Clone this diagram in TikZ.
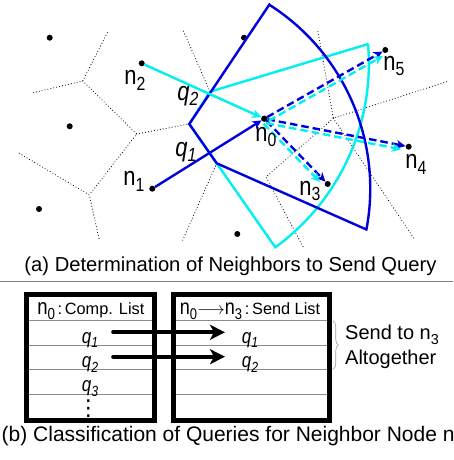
\documentclass[tikz,border=0pt]{standalone}
\usepackage{fontspec}
\setmainfont{Liberation Sans}
\newfontfamily\djvfont{DejaVu Sans}
\usetikzlibrary{arrows.meta,decorations.pathreplacing,calc}
\definecolor{qblue}{RGB}{0,0,220}
\definecolor{qcyan}{RGB}{0,240,240}
\newcommand{\lsub}[1]{\raisebox{-0.22em}{\scalebox{0.72}{#1}}}
\newcommand{\tallt}[1]{\scalebox{1}[1.2]{#1}}
\begin{document}
\begin{tikzpicture}[x=1pt,y=1pt,
  vor/.style={black, line width=1.1pt, line cap=round, dash pattern=on 0pt off 3pt},
  dot/.style={circle, fill=black, inner sep=0pt, minimum size=6pt},
  region/.style={line width=2.4pt, line join=miter},
  qarrow/.style={line width=2.4pt, -{Stealth[length=9pt,width=8.5pt,inset=2.5pt]}},
  qdash/.style={qarrow, dash pattern=on 7.5pt off 4pt},
  lbl/.style={font=\fontsize{22}{22}\selectfont, inner sep=0pt},
  qlbl/.style={font=\fontsize{22}{22}\selectfont\itshape, inner sep=0pt},
  captxt/.style={font=\fontsize{20.2}{21}\selectfont, inner sep=0pt},
  listbox/.style={draw, line width=5pt, inner sep=0pt},
  rowline/.style={black!45, line width=0.6pt},
  hdr/.style={font=\fontsize{16.3}{17}\selectfont, inner sep=0pt},
  cell/.style={font=\fontsize{17}{17}\selectfont\itshape, inner sep=0pt},
  bigarrow/.style={line width=4.3pt, line cap=round, -{Stealth[length=15pt,width=15pt,inset=4pt]}},
  sidetxt/.style={font=\fontsize{20}{21}\selectfont, inner sep=0pt},
]
\useasboundingbox (0,0) rectangle (453,460);

% ---------- Voronoi edges ----------
\coordinate (A) at (82.7,379);
\coordinate (B) at (136.7,326);
\coordinate (C) at (89.3,265);
\coordinate (D) at (189.3,336);
\coordinate (E) at (216.7,296.7);
\coordinate (F) at (266,283);
\coordinate (G) at (333.3,341.7);
\coordinate (H) at (210,368.3);
\draw[vor] (33.3,367.3) -- (A) -- (108.3,429.3);
\draw[vor] (A) -- (B) -- (C);
\draw[vor] (B) -- (D);
\draw[vor] (19.3,306.7) -- (C) -- (99.3,220);
\draw[vor] (H) -- (183.3,429.3);
\draw[vor] (E) -- (182,218.3);
\draw[vor] (303,213.3) -- (F) -- (G);
\draw[vor] (318,428.3) -- (G) -- (446.7,378.3);
\draw[vor] (G) -- (415,220);

% ---------- nodes ----------
\node[dot] (n0) at (264.3,341.3) {};
\node[dot] (n1) at (152.3,271.3) {};
\node[dot] (n2) at (141.7,396.7) {};
\node[dot] (n3) at (327.7,276) {};
\node[dot] (n4) at (408.7,313.3) {};
\node[dot] (n5) at (385.3,410) {};
\node[dot] (d1) at (49.7,422.3) {};
\node[dot] (d2) at (244,422.3) {};
\node[dot] (d3) at (69.7,333.7) {};
\node[dot] (d4) at (39,251) {};
\node[dot] (d5) at (237.3,226) {};

% query from n1 (blue)
\draw[qarrow, qblue] (n1) -- (n0);

% cyan region (q2)
\draw[region, qcyan] (367.3,415.7) -- (H) -- (D) -- (275.3,212.7)
  arc[start angle=-54, end angle=4.8, radius=227] -- cycle;
% blue region (q1)
\draw[region, qblue] (269.3,455.3) -- (D) -- (E) -- (366.4,230.5)
  arc[start angle=-10.8, end angle=57.5, radius=218] -- cycle;

% query from n2 (cyan)
\draw[qarrow, qcyan] (n2) -- (n0);

% forwarded queries
\draw[qdash, qblue] (n0) -- (n5);
\draw[qdash, qblue] (n0) -- (n4);
\draw[qdash, qblue] (n0) -- (n3);
\draw[qdash, qcyan, shorten <=3pt, shorten >=5pt] ([shift={(2,-3.5)}]n0.center) -- ([shift={(2,-3.5)}]n5.center);
\draw[qdash, qcyan, shorten <=3pt, shorten >=7pt] ([shift={(-0.8,-3.9)}]n0.center) -- ([shift={(-0.8,-3.9)}]n4.center);
\draw[qdash, qcyan, shorten <=3pt, shorten >=7pt] ([shift={(-2.9,-2.8)}]n0.center) -- ([shift={(-2.9,-2.8)}]n3.center);

\node[dot] at (n0) {};

% labels
\node[lbl] (ln2) at (135,380) {\tallt{n\lsub{2}}};
\node[lbl] (ln1) at (134,279) {\tallt{n\lsub{1}}};
\node[lbl] (ln0) at (266,323) {\tallt{n\lsub{0}}};
\node[lbl] (ln3) at (310,269) {\tallt{n\lsub{3}}};
\node[lbl] (ln4) at (416,296) {\tallt{n\lsub{4}}};
\node[lbl] (ln5) at (394,394) {\tallt{n\lsub{5}}};
\node[qlbl] (lq2) at (188,364) {\tallt{q\lsub{2}}};
\node[qlbl] (lq1) at (186,308) {\tallt{q\lsub{1}}};

\node[captxt, anchor=base] (capa) at (230.5,188.3) {(a) Determination of Neighbors to Send Query};

% separator
\draw[black!50, line width=1.2pt] (0,178.3) -- (453,178.3);

% ---------- lists ----------
\foreach \yy in {139.3,115,90.7,66}{
  \draw[rowline] (26.5,\yy) -- (154.2,\yy);
  \draw[rowline] (173.5,\yy) -- (329.2,\yy);
}
\node[listbox, minimum width=127.7pt, minimum height=126pt] (lbox) at (90.35,102.8) {};
\node[listbox, minimum width=155.7pt, minimum height=126pt] (rbox) at (251.35,102.8) {};

\node[hdr, anchor=base] (lh) at (90.8,145) {{\fontsize{18.5}{18}\selectfont\tallt{n\lsub{0}}}\,:\,Comp. List};
\node[hdr, anchor=base] (rh) at (250,145) {{\fontsize{18}{18}\selectfont\tallt{n\lsub{0}}$\longrightarrow$\tallt{n\lsub{3}}}\,:\,Send List};

\node[cell, anchor=base] (cq1) at (90,116.7) {\tallt{q\lsub{1}}};
\node[cell, anchor=base] (cq2) at (90,92.4) {\tallt{q\lsub{2}}};
\node[cell, anchor=base] (cq3) at (90,68.1) {\tallt{q\lsub{3}}};
\node[inner sep=0pt, font=\djvfont\fontsize{22}{22}\selectfont] (cdots) at (88.3,51) {⋮};
\node[cell, anchor=base] (sq1) at (250,116.7) {\tallt{q\lsub{1}}};
\node[cell, anchor=base] (sq2) at (250,92.4) {\tallt{q\lsub{2}}};

\coordinate (a1s) at (113.3,127.7);
\coordinate (a1e) at (225,127.7);
\coordinate (a2s) at (113.3,103.3);
\coordinate (a2e) at (225,103.3);
\draw[bigarrow] (a1s) -- (a1e);
\draw[bigarrow] (a2s) -- (a2e);

\coordinate (brt) at (333,139.3);
\coordinate (brb) at (333,90.7);
\draw[black!40, line width=0.6pt, decorate, decoration={brace, amplitude=5.5pt}] (brt) -- (brb);
\node[sidetxt, anchor=base west] (st1) at (345,120) {Send to n\lsub{3}};
\node[sidetxt, anchor=base west] (st2) at (345,95) {Altogether};

\node[captxt, anchor=base west, font=\fontsize{21}{22}\selectfont] (capb) at (1.5,18.3) {(b) Classification of Queries for Neighbor Node n\lsub{3}};
\end{tikzpicture}
\end{document}
